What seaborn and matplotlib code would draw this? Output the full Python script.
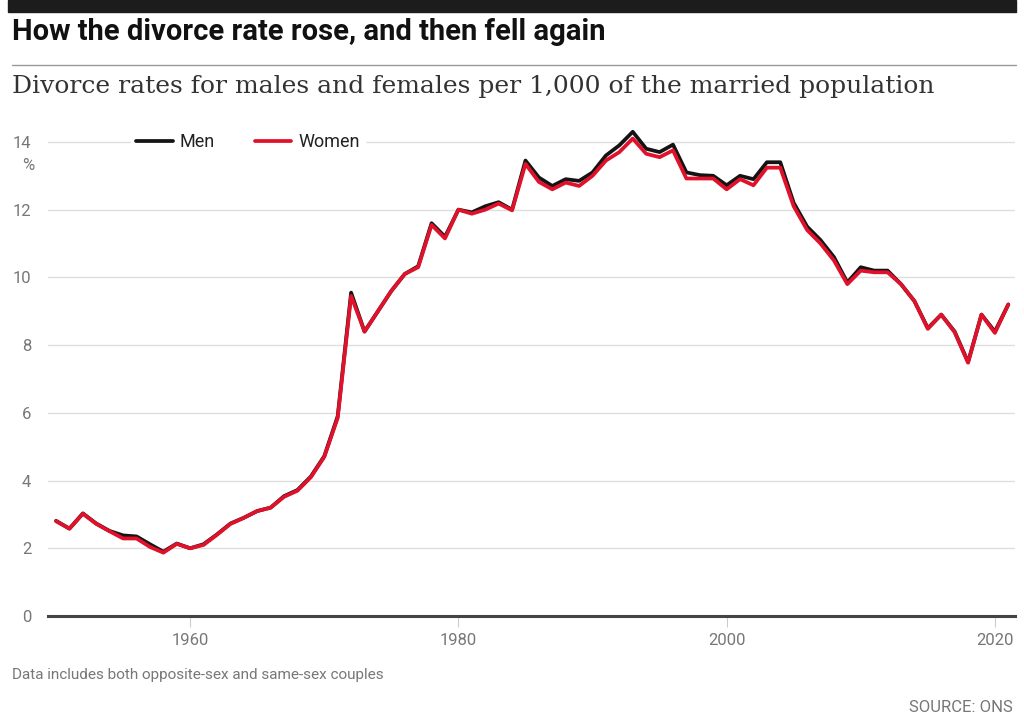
import matplotlib
matplotlib.use("Agg")
import matplotlib.pyplot as plt
from matplotlib import font_manager
from matplotlib.patches import Rectangle
from matplotlib.lines import Line2D
import seaborn as sns
import pandas as pd

years = list(range(1950, 2022))
men = [2.81, 2.58, 3.03, 2.73, 2.51, 2.38, 2.35, 2.12, 1.90, 2.14,
       2.00, 2.12, 2.41, 2.73, 2.90, 3.10, 3.20, 3.54, 3.72, 4.12,
       4.72, 5.90, 9.55, 8.40, 9.00, 9.60, 10.10, 10.33, 11.60, 11.20,
       12.00, 11.92, 12.10, 12.22, 12.00, 13.45, 12.95, 12.70, 12.90, 12.85,
       13.10, 13.60, 13.90, 14.30, 13.80, 13.70, 13.92, 13.10, 13.02, 13.00,
       12.72, 13.00, 12.90, 13.40, 13.40, 12.20, 11.50, 11.10, 10.60, 9.85,
       10.30, 10.20, 10.20, 9.80, 9.30, 8.50, 8.90, 8.40, 7.50, 8.90,
       8.40, 9.20]
women = [2.80, 2.58, 3.02, 2.72, 2.50, 2.29, 2.29, 2.04, 1.87, 2.13,
         2.00, 2.10, 2.40, 2.72, 2.90, 3.10, 3.20, 3.52, 3.70, 4.10,
         4.70, 5.85, 9.45, 8.40, 9.00, 9.60, 10.10, 10.30, 11.55, 11.15,
         12.00, 11.88, 12.00, 12.18, 11.98, 13.35, 12.82, 12.60, 12.80, 12.70,
         13.00, 13.45, 13.70, 14.10, 13.65, 13.55, 13.75, 12.92, 12.92, 12.92,
         12.60, 12.90, 12.72, 13.24, 13.24, 12.10, 11.40, 11.00, 10.50, 9.80,
         10.20, 10.15, 10.15, 9.80, 9.30, 8.48, 8.90, 8.38, 7.48, 8.90,
         8.36, 9.20]
series_names = ["Men", "Women"]
y_ticks = [0, 2, 4, 6, 8, 10, 12, 14]
x_ticks = [1960, 1980, 2000, 2020]

title = "How the divorce rate rose, and then fell again"
subtitle = "Divorce rates for males and females per 1,000 of the married population"
note = "Data includes both opposite-sex and same-sex couples"
source = "SOURCE: ONS"

names = {f.name for f in font_manager.fontManager.ttflist}
cond = "Liberation Sans Narrow" if "Liberation Sans Narrow" in names else "Roboto"
serif = "DejaVu Serif"

df = pd.DataFrame({
    "year": years * 2,
    "rate": men + women,
    "sex": ["Men"] * len(years) + ["Women"] * len(years),
})

sns.set_theme(style="white")
plt.rcParams["font.family"] = [cond, "DejaVu Sans"]

fig = plt.figure(figsize=(10.24, 7.26), dpi=100)
W, H = 1024, 726

def fx(px):
    return px / W

def fy(py):
    return 1 - py / H

ax = fig.add_axes([fx(48), fy(616), fx(1015) - fx(48), fy(125) - fy(616)])

palette = {"Men": "#141414", "Women": "#e0112b"}
sns.lineplot(data=df, x="year", y="rate", hue="sex", hue_order=series_names,
             palette=palette, linewidth=2.7, ax=ax, legend=False)

ax.set_xlim(1949.4, 2021.5)
ax.set_ylim(0, 14.5)
ax.set_yticks(y_ticks)
ax.set_yticklabels([str(v) for v in y_ticks])
ax.set_xticks(x_ticks)
ax.set_xticklabels([str(v) for v in x_ticks])
ax.set_xlabel("")
ax.set_ylabel("")
for s in ["top", "right", "left"]:
    ax.spines[s].set_visible(False)
ax.spines["bottom"].set_color("#444444")
ax.spines["bottom"].set_linewidth(2.2)
ax.grid(axis="y", color="#dedede", linewidth=1.0)
ax.grid(axis="x", visible=False)
ax.set_axisbelow(True)
ax.tick_params(axis="y", length=0, pad=12, labelsize=12, labelcolor="#777777")
ax.tick_params(axis="x", length=8, width=0.8, color="#cccccc", pad=4,
               labelsize=12, labelcolor="#777777", direction="out", bottom=True)

handles = [Line2D([0], [0], color=palette[n], lw=2.7) for n in series_names]
leg = ax.legend(handles, series_names, loc="center left",
                bbox_to_anchor=((122 - 48) / 967, (616 - 142) / 491),
                ncol=2, frameon=True, fontsize=13, handlelength=2.0,
                handletextpad=0.4, columnspacing=2.2, borderpad=0.3)
leg.get_frame().set_facecolor("white")
leg.get_frame().set_edgecolor("white")
leg.get_frame().set_alpha(1)
for t in leg.get_texts():
    t.set_color("#222222")

fig.text(fx(28), fy(166), "%", ha="center", va="center", fontsize=12, color="#777777")

fig.patches.append(Rectangle((fx(8), fy(12)), fx(1016) - fx(8), fy(0) - fy(12),
                             transform=fig.transFigure, color="#1c1c1c", zorder=5))
fig.text(fx(12), fy(32), title, ha="left", va="center", fontsize=21,
         fontweight="bold", color="#111111")
fig.lines.append(Line2D([fx(12), fx(1016)], [fy(65), fy(65)], transform=fig.transFigure,
                        color="#999999", lw=1.0))
fig.text(fx(12), fy(87), subtitle, ha="left", va="center", fontsize=18,
         family=serif, color="#333333")
fig.text(fx(12), fy(675), note, ha="left", va="center", fontsize=11, color="#777777")
fig.text(fx(1013), fy(707), source, ha="right", va="center", fontsize=12,
         color="#777777")

fig.savefig("out.png", dpi=100, facecolor="white")
